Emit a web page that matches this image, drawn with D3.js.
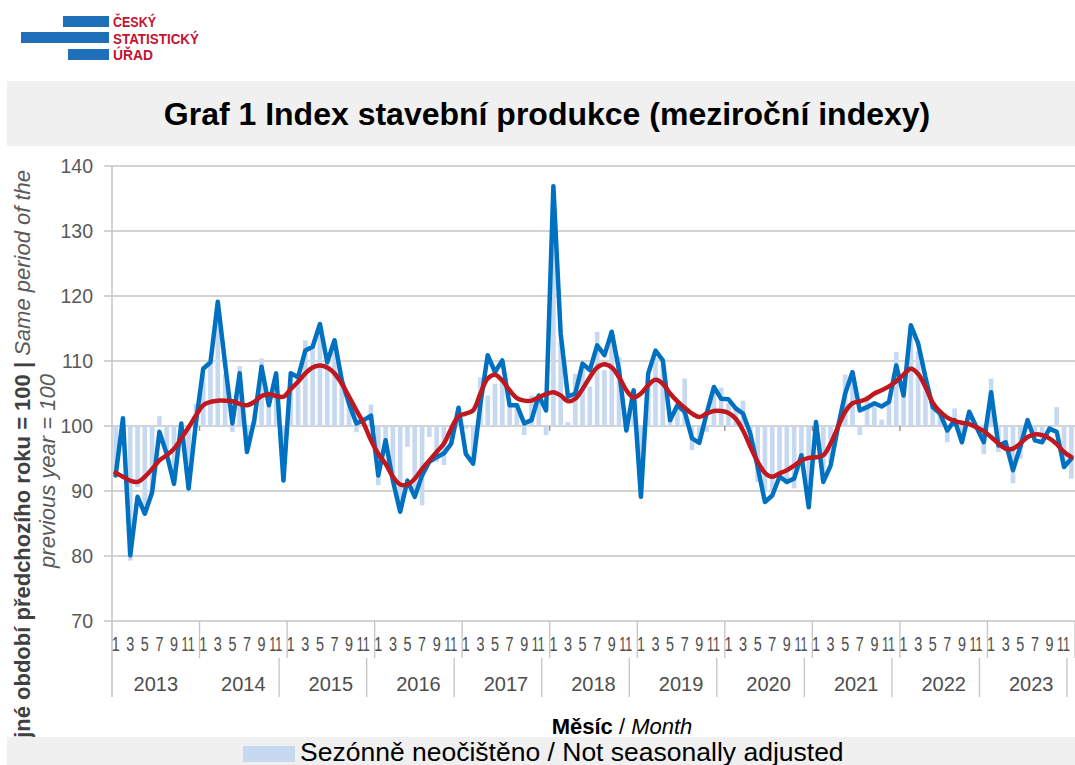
<!DOCTYPE html>
<html>
<head>
<meta charset="utf-8">
<script src="https://cdn.jsdelivr.net/npm/d3@7"></script>
<style>
  body { margin: 0; background: #fff; }
  svg { display: block; font-family: "Liberation Sans", Arial, sans-serif; }
</style>
</head>
<body>
<div id="chart-area"></div>
<script>
const W = 1075
const H = 765
const MARGIN = { LEFT: 112, RIGHT: 0, TOP: 166, BOTTOM: 144 }

// data: monthly index, same month of previous year = 100
const years = ["2013", "2014", "2015", "2016", "2017", "2018", "2019", "2020", "2021", "2022", "2023"]
const monthTicks = [1, 3, 5, 7, 9, 11]
const yTicks = [70, 80, 90, 100, 110, 120, 130, 140]

// not seasonally adjusted (bars)
const nsaValues = [
  92.2, 97.0, 79.3, 90.6, 87.0, 90.0, 101.5, 96.0, 91.5, 99.0, 89.8, 103.4,
  108.0, 109.6, 118.0, 108.0, 99.1, 109.2, 97.0, 101.0, 110.4, 104.0, 107.0, 92.5,
  107.0, 108.0, 113.2, 112.5, 114.5, 110.0, 112.0, 107.5, 104.0, 99.1, 101.0, 103.3,
  90.9, 97.0, 92.0, 88.5, 96.8, 90.0, 87.8, 98.3, 94.5, 94.0, 97.5, 101.0,
  99.6, 95.0, 107.5, 104.7, 106.5, 107.3, 103.4, 103.0, 98.6, 104.7, 104.0, 98.6,
  136.0, 113.0, 100.6, 108.0, 109.0, 106.1, 114.5, 108.6, 114.0, 110.6, 99.5, 104.0,
  90.0, 107.0, 110.5, 109.5, 101.0, 103.0, 107.3, 96.3, 97.5, 99.1, 105.5, 105.9,
  103.5, 103.0, 103.9, 99.0, 91.4, 90.0, 90.0, 92.0, 91.0, 90.4, 94.0, 90.0,
  99.0, 92.0, 94.5, 100.0, 107.9, 107.5, 98.6, 104.7, 103.0, 101.0, 103.5, 111.4,
  105.0, 114.0, 111.5, 105.7, 103.0, 102.5, 97.5, 102.7, 97.5, 101.5, 99.5, 95.7,
  107.3, 96.0, 96.5, 91.2, 95.0, 101.0, 98.5, 98.0, 99.5, 102.9, 94.0, 91.9
]

// blue line
const adjValues = [
  92.4, 101.2, 80.1, 89.1, 86.5, 89.8, 99.1, 95.7, 91.1, 100.4, 90.4, 100.5,
  108.8, 109.8, 119.1, 109.6, 100.4, 108.1, 96.0, 100.9, 109.1, 103.2, 108.1, 91.6,
  108.1, 107.5, 111.6, 112.2, 115.7, 109.8, 113.2, 107.0, 103.4, 100.4, 100.9, 101.6,
  92.4, 97.8, 91.6, 86.8, 91.6, 89.1, 92.4, 94.5, 95.2, 95.8, 97.3, 102.8,
  95.7, 94.2, 103.4, 110.9, 108.3, 110.1, 103.2, 103.2, 100.4, 100.9, 104.7, 102.4,
  136.9, 114.2, 104.5, 105.0, 109.6, 108.6, 112.4, 110.9, 114.5, 108.6, 99.3, 105.5,
  89.1, 108.1, 111.6, 110.1, 100.9, 103.2, 102.2, 98.1, 97.4, 101.9, 106.0, 104.2,
  104.1, 102.7, 101.9, 98.8, 93.7, 88.3, 89.3, 92.2, 91.4, 91.9, 95.5, 87.5,
  100.6, 91.4, 93.9, 99.8, 105.0, 108.3, 102.4, 102.9, 103.5, 103.0, 103.7, 109.3,
  104.7, 115.5, 112.7, 107.5, 102.9, 101.9, 99.3, 100.9, 97.5, 102.2, 99.8, 97.5,
  105.2, 97.0, 97.5, 93.2, 96.8, 100.9, 97.8, 97.5, 99.6, 99.1, 93.7, 95.0
]

// red line
const trendValues = [
  92.8, 92.2, 91.6, 91.4, 92.2, 93.4, 94.7, 95.5, 96.5, 98.1, 99.8, 101.6,
  103.2, 103.7, 103.9, 103.9, 103.8, 103.4, 103.2, 103.7, 104.6, 104.9, 104.6, 104.5,
  105.7, 106.8, 108.1, 109.0, 109.3, 109.0, 108.1, 106.5, 104.5, 102.4, 100.4, 97.8,
  95.7, 94.2, 92.2, 91.0, 91.0, 91.9, 93.4, 94.7, 96.0, 97.3, 99.6, 101.5,
  101.9, 102.4, 105.0, 107.3, 107.9, 107.0, 105.5, 104.3, 103.9, 103.9, 104.4, 104.9,
  105.2, 104.7, 103.8, 104.2, 105.7, 107.5, 109.0, 109.5, 109.0, 107.5, 105.5, 104.4,
  105.0, 106.3, 107.1, 106.5, 105.0, 103.8, 102.8, 101.9, 101.4, 101.9, 102.3, 102.3,
  102.0, 101.1, 99.3, 96.8, 94.5, 92.8, 92.2, 92.7, 93.2, 93.9, 94.7, 95.1,
  95.2, 95.5, 97.3, 99.8, 102.2, 103.5, 103.8, 104.2, 105.0, 105.5, 106.1, 106.9,
  107.9, 108.8, 108.0, 106.0, 103.6, 102.2, 101.3, 100.8, 100.5, 100.3, 99.8, 99.2,
  98.3, 97.3, 96.5, 96.5, 97.3, 98.3, 98.7, 98.6, 98.1, 97.2, 96.0, 95.2
]

const TEXT = "#595959"
const GRID = "#c4c4c4"

const svg = d3.select("#chart-area").append("svg")
  .attr("width", W)
  .attr("height", H)

// logo
const logo = svg.append("g")
logo.append("rect").attr("x", 63).attr("y", 16).attr("width", 46).attr("height", 11).attr("fill", "#1f6fb9")
logo.append("rect").attr("x", 21).attr("y", 32).attr("width", 88).attr("height", 11).attr("fill", "#1f6fb9")
logo.append("rect").attr("x", 68).attr("y", 49).attr("width", 41).attr("height", 11).attr("fill", "#1f6fb9")
const logoText = [["ČESKÝ", 27, 43], ["STATISTICKÝ", 43.5, 86], ["ÚŘAD", 60, 40]]
logoText.forEach(d => {
  logo.append("text")
    .attr("x", 113).attr("y", d[1])
    .attr("font-size", "14.5px").attr("font-weight", "bold")
    .attr("fill", "#c4122f")
    .attr("textLength", d[2]).attr("lengthAdjust", "spacingAndGlyphs")
    .text(d[0])
})

// title band
svg.append("rect")
  .attr("x", 7).attr("y", 81).attr("width", W - 7).attr("height", 65)
  .attr("fill", "#f0f0f0")
svg.append("text")
  .attr("x", 547).attr("y", 125)
  .attr("text-anchor", "middle")
  .attr("font-size", "32px").attr("font-weight", "bold")
  .attr("fill", "#000")
  .text("Graf 1 Index stavební produkce (meziroční indexy)")

// scales
const idx = d3.range(adjValues.length)
const x = d3.scaleBand()
  .domain(idx)
  .range([MARGIN.LEFT, W - MARGIN.RIGHT])
  .paddingInner(0.36)
  .paddingOuter(0.18)
const step = x.step()
const xc = i => MARGIN.LEFT + step * (i + 0.5)
const xEdge = i => MARGIN.LEFT + step * i

const y = d3.scaleLinear()
  .domain([70, 140])
  .range([H - MARGIN.BOTTOM, MARGIN.TOP])

// grid
svg.append("g")
  .selectAll("line")
  .data(yTicks)
  .join("line")
  .attr("x1", MARGIN.LEFT - 8).attr("x2", W)
  .attr("y1", d => y(d)).attr("y2", d => y(d))
  .attr("stroke", GRID).attr("stroke-width", 1.5)

// y axis labels
const yAxis = d3.axisLeft(y).tickValues(yTicks).tickSize(0).tickPadding(19)
svg.append("g")
  .attr("transform", `translate(${MARGIN.LEFT}, 0)`)
  .call(yAxis)
  .call(g => g.select(".domain").remove())
  .call(g => g.selectAll("text").attr("font-size", "19.5px").attr("fill", TEXT).attr("font-family", "Liberation Sans, Arial, sans-serif"))

// bars from 100
svg.append("g")
  .selectAll("rect")
  .data(nsaValues)
  .join("rect")
  .attr("x", (d, i) => x(i))
  .attr("width", x.bandwidth())
  .attr("y", d => y(Math.max(d, 100)))
  .attr("height", d => Math.abs(y(d) - y(100)))
  .attr("fill", "#c6d9f0")

// left axis line and category separators
svg.append("line")
  .attr("x1", MARGIN.LEFT).attr("x2", MARGIN.LEFT)
  .attr("y1", MARGIN.TOP).attr("y2", 697)
  .attr("stroke", GRID).attr("stroke-width", 1.5)

const sep = svg.append("g").attr("stroke", GRID).attr("stroke-width", 1.3)
years.forEach((yr, k) => {
  if (k > 0) {
    sep.append("line")
      .attr("x1", xEdge(k * 12)).attr("x2", xEdge(k * 12))
      .attr("y1", y(100)).attr("y2", y(100) + 5)
      .attr("stroke", "#8c8c8c")
  }
})
years.forEach((yr, k) => {
  sep.append("line")
    .attr("x1", xEdge((k + 1) * 12)).attr("x2", xEdge((k + 1) * 12))
    .attr("y1", y(70)).attr("y2", 658)
  if (k >= 1) {
    sep.append("line")
      .attr("x1", xEdge((k + 1) * 12) - 8).attr("x2", xEdge((k + 1) * 12) - 8)
      .attr("y1", 658).attr("y2", 697)
  }
})

// month and year labels
const monthG = svg.append("g")
years.forEach((yr, k) => {
  monthTicks.forEach(m => {
    const s = String(m)
    monthG.append("text")
      .attr("x", xc(k * 12 + m - 1) - (s.length === 1 ? 0 : 0.5))
      .attr("y", 651)
      .attr("text-anchor", "middle")
      .attr("font-size", "20px")
      .attr("fill", "#4d4d4d")
      .attr("textLength", s.length === 1 ? 8 : 13)
      .attr("lengthAdjust", "spacingAndGlyphs")
      .text(s)
  })
  monthG.append("text")
    .attr("x", (xEdge(k * 12) + xEdge((k + 1) * 12)) / 2)
    .attr("y", 691)
    .attr("text-anchor", "middle")
    .attr("font-size", "20px")
    .attr("fill", "#4d4d4d")
    .text(yr)
})

// lines
const line = d3.line()
  .x((d, i) => xc(i))
  .y(d => y(d))

svg.append("path")
  .datum(adjValues)
  .attr("d", line)
  .attr("fill", "none")
  .attr("stroke", "#0070c0")
  .attr("stroke-width", 4.5)
  .attr("stroke-linejoin", "round")
  .attr("stroke-linecap", "round")

svg.append("path")
  .datum(trendValues)
  .attr("d", line.curve(d3.curveCatmullRom.alpha(0.5)))
  .attr("fill", "none")
  .attr("stroke", "#c0181f")
  .attr("stroke-width", 4.5)
  .attr("stroke-linejoin", "round")
  .attr("stroke-linecap", "round")

// y title (partly hidden under the legend band, as in the source)
const yTitle = svg.append("text")
  .attr("transform", "translate(30, 471) rotate(-90)")
  .attr("text-anchor", "middle")
  .attr("font-size", "22px")
  .attr("fill", "#404040")
yTitle.append("tspan").attr("font-weight", "bold").text("Stejné období předchozího roku = 100 | ")
yTitle.append("tspan").attr("font-style", "italic").attr("fill", TEXT).text("Same period of  the")
svg.append("text")
  .attr("transform", "translate(55, 471) rotate(-90)")
  .attr("text-anchor", "middle")
  .attr("font-size", "22px")
  .attr("font-style", "italic")
  .attr("fill", TEXT)
  .text("previous year = 100")

// x title
const xTitle = svg.append("text")
  .attr("x", 622).attr("y", 734)
  .attr("text-anchor", "middle")
  .attr("font-size", "22px")
  .attr("fill", "#000")
xTitle.append("tspan").attr("font-weight", "bold").text("Měsíc")
xTitle.append("tspan").text(" / ")
xTitle.append("tspan").attr("font-style", "italic").text("Month")

// legend band
svg.append("rect")
  .attr("x", 7).attr("y", 737).attr("width", W - 7).attr("height", H - 737)
  .attr("fill", "#f0f0f0")
svg.append("rect")
  .attr("x", 243).attr("y", 746).attr("width", 52).attr("height", 16)
  .attr("fill", "#c6d9f0")
svg.append("text")
  .attr("x", 300).attr("y", 761)
  .attr("font-size", "26.5px")
  .attr("fill", "#000")
  .text("Sezónně neočištěno / Not seasonally adjusted")
</script>
</body>
</html>
